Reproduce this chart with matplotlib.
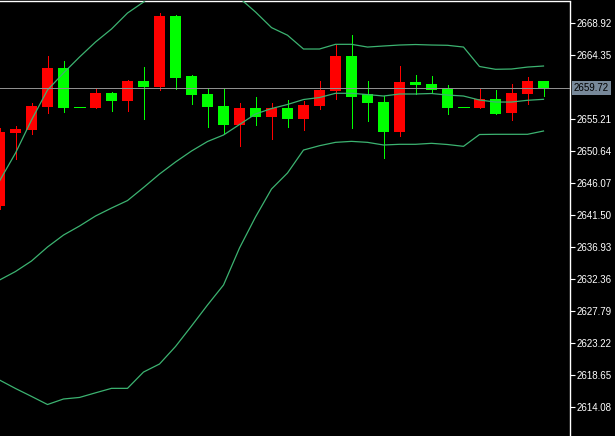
import matplotlib
matplotlib.use("Agg")
import matplotlib.pyplot as plt
import numpy as np

# ---- data ----
opens = [2642.85, 2653.28, 2653.71, 2656.96, 2662.53, 2656.91, 2656.86, 2658.96, 2657.86, 2660.67,
         2659.82, 2669.96, 2661.39, 2658.82, 2657.10, 2654.43, 2656.81, 2655.57, 2656.81, 2655.29,
         2657.14, 2659.29, 2664.25, 2658.82, 2657.72, 2653.43, 2660.57, 2660.25, 2659.53, 2656.91,
         2656.86, 2658.10, 2656.14, 2658.86, 2660.67]
highs = [2653.95, 2654.24, 2657.53, 2664.25, 2663.53, 2656.91, 2659.72, 2659.10, 2660.82, 2662.67,
         2670.39, 2670.11, 2661.53, 2659.67, 2659.67, 2657.57, 2658.39, 2657.57, 2658.00, 2657.82,
         2660.67, 2665.86, 2667.25, 2660.67, 2658.53, 2662.86, 2661.53, 2661.39, 2660.10, 2656.91,
         2659.53, 2659.39, 2660.25, 2661.25, 2660.67]
lows = [2642.40, 2649.53, 2653.14, 2656.14, 2656.29, 2656.91, 2656.86, 2656.39, 2656.39, 2655.24,
        2659.39, 2659.53, 2657.43, 2654.14, 2653.28, 2651.43, 2654.43, 2652.43, 2654.14, 2653.71,
        2656.71, 2658.14, 2654.00, 2655.00, 2649.67, 2652.86, 2658.82, 2659.10, 2656.00, 2656.91,
        2656.86, 2656.00, 2655.14, 2657.43, 2658.57]
closes = [2653.38, 2653.81, 2657.10, 2662.53, 2656.86, 2656.91, 2658.96, 2657.86, 2660.67, 2659.82,
          2669.96, 2661.15, 2658.72, 2657.00, 2654.43, 2656.81, 2655.57, 2656.81, 2655.29, 2657.24,
          2659.39, 2664.25, 2658.43, 2657.57, 2653.43, 2660.57, 2660.10, 2659.39, 2656.86, 2656.91,
          2658.10, 2656.00, 2658.96, 2660.67, 2659.72]

bb_upper = [2646.38, 2650.38, 2655.10, 2659.39, 2661.82, 2664.10, 2666.25, 2668.11, 2670.39, 2671.96,
            2673.97, 2675.39, 2675.68, 2675.11, 2673.68, 2672.54, 2670.54, 2668.31, 2667.22, 2665.25,
            2665.25, 2665.92, 2665.92, 2665.53, 2665.68, 2665.82, 2665.89, 2665.82, 2665.78, 2665.53,
            2662.75, 2662.35, 2662.39, 2662.67, 2662.82]
bb_middle = [2632.23, 2633.45, 2634.95, 2636.95, 2638.66, 2639.95, 2641.38, 2642.52, 2643.59, 2645.45,
             2647.38, 2649.10, 2650.67, 2652.03, 2652.96, 2654.46, 2655.96, 2656.74, 2657.32, 2658.03,
             2658.32, 2658.92, 2658.92, 2658.74, 2658.53, 2658.82, 2658.82, 2658.89, 2658.67, 2658.53,
             2657.96, 2657.67, 2657.67, 2657.92, 2658.06]
bb_lower = [2617.94, 2616.73, 2615.60, 2614.44, 2615.23, 2615.45, 2616.11, 2616.75, 2616.75, 2619.08,
            2620.23, 2622.73, 2625.66, 2628.66, 2631.52, 2636.81, 2641.24, 2645.24, 2647.53, 2650.81,
            2651.43, 2651.91, 2652.05, 2651.91, 2651.53, 2651.63, 2651.63, 2651.77, 2651.60, 2651.34,
            2653.03, 2653.06, 2653.06, 2653.06, 2653.53]

tick_values = [2668.92, 2664.35, 2655.21, 2650.64, 2646.07, 2641.50, 2636.93,
               2632.36, 2627.79, 2623.22, 2618.65, 2614.08]
last_price = 2659.72

# ---- figure ----
W, H = 615, 436
fig = plt.figure(figsize=(W / 100, H / 100), dpi=100, facecolor="black")
ax = fig.add_axes([0, 0, 569.5 / W, (H - 1.5) / H])
ax.set_facecolor("black")

n = len(opens)
x = np.arange(n)
o = np.array(opens)
c = np.array(closes)
hi = np.array(highs)
lo = np.array(lows)

UP = "#ff0000"
DOWN = "#00ff00"
BAND = "#3cb371"
colors = [UP if cc > oo else DOWN for oo, cc in zip(o, c)]

PX = 0.72  # one pixel in points at 100 dpi
body_w = 11 / 16
# wicks
ax.vlines(x, lo, hi, colors=colors, linewidth=PX, zorder=2, antialiased=False)
# bodies
ax.bar(x, np.abs(c - o), bottom=np.minimum(o, c), width=body_w, color=colors,
       linewidth=0, zorder=3, antialiased=False)
# dojis
doji = np.isclose(o, c)
ax.hlines(c[doji], x[doji] - body_w / 2, x[doji] + body_w / 2,
          colors=[colors[i] for i in np.where(doji)[0]], linewidth=PX, zorder=3,
          antialiased=False)

# Bollinger bands
for band in (bb_upper, bb_middle, bb_lower):
    ax.plot(x, band, color=BAND, linewidth=0.9, zorder=4)

# current price line
ax.axhline(last_price, color="#8f8f8f", linewidth=PX, zorder=5, antialiased=False)

ax.set_xlim(0.5 / 16, 570 / 16)
ax.set_ylim(2609.94, 2672.04)

for s in ("left", "bottom"):
    ax.spines[s].set_visible(False)
for s in ("top", "right"):
    ax.spines[s].set_color("white")
    ax.spines[s].set_linewidth(1.0)

ax.set_xticks([])
ax.yaxis.tick_right()
ax.set_yticks(tick_values)
ax.set_yticklabels([f"{v:.2f}" for v in tick_values])
ax.tick_params(axis="y", colors="white", labelcolor="white", length=3.5, width=0.8,
               pad=1.5, labelsize=7)
for lab in ax.get_yticklabels():
    lab.set_fontfamily("Liberation Sans")

ax.text(1.0 + 4.5 / 569.5, last_price, f"{last_price:.2f}", transform=ax.get_yaxis_transform(),
        ha="left", va="center", fontsize=7, family="Liberation Sans", color="black",
        bbox=dict(boxstyle="square,pad=0.2", facecolor="#778899", edgecolor="none"),
        clip_on=False, zorder=6)

fig.savefig("out.png", dpi=100, facecolor="black")
